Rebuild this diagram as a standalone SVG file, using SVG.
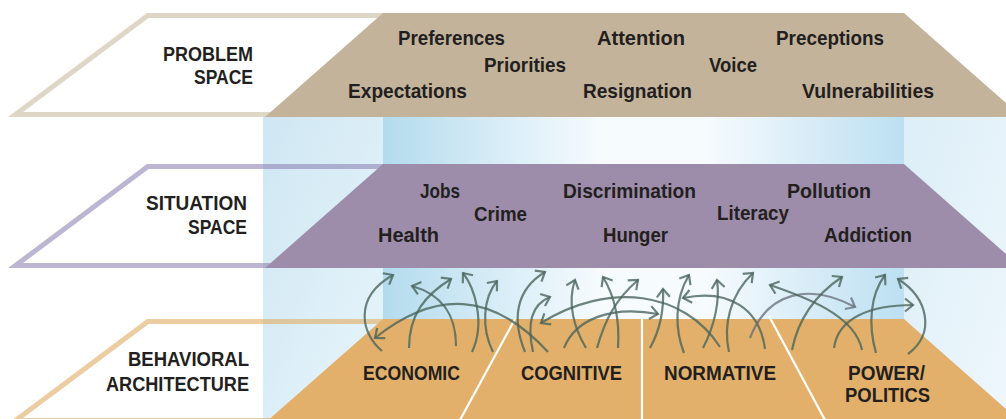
<svg xmlns="http://www.w3.org/2000/svg" width="1006" height="419" viewBox="0 0 1006 419">
<style>
.w{font-family:"Liberation Sans",Arial,sans-serif;font-weight:bold;font-size:21px;fill:#231F20}
.c{font-family:"Liberation Sans",Arial,sans-serif;font-weight:bold;font-size:20px;fill:#231F20}
.ar{fill:none;stroke:#4B655C;stroke-opacity:.8;stroke-width:2.2;marker-end:url(#ah)}
.ag{fill:none;stroke:#666B78;stroke-opacity:.75;stroke-width:2.2;marker-end:url(#ahg)}
.ol{fill:none;stroke-width:5;stroke-linejoin:miter}
.div{stroke:#fff;stroke-width:2.2;fill:none}
</style>
<defs>
<linearGradient id="back" x1="0" y1="0" x2="1" y2="0">
<stop offset="0" stop-color="#B3DBED"/>
<stop offset="0.25" stop-color="#DCEFF8"/>
<stop offset="0.42" stop-color="#F6FBFE"/>
<stop offset="0.62" stop-color="#F6FBFE"/>
<stop offset="0.85" stop-color="#D3EAF6"/>
<stop offset="1" stop-color="#BCE0F2"/>
</linearGradient>
<linearGradient id="lw" x1="0" y1="0" x2="1" y2="1">
<stop offset="0" stop-color="#CFE7F3"/>
<stop offset="1" stop-color="#E8F5FB"/>
</linearGradient>
<linearGradient id="rw" x1="0" y1="0" x2="1" y2="1">
<stop offset="0" stop-color="#DCEEF7"/>
<stop offset="1" stop-color="#EEF7FC"/>
</linearGradient>
<marker id="ah" viewBox="-12 -10 16 20" refX="0" refY="0" markerWidth="16" markerHeight="20" markerUnits="userSpaceOnUse" orient="auto">
<path d="M-8,-6.5 L0,0 L-8,6.5" fill="none" stroke="#4B655C" stroke-opacity="0.8" stroke-width="2.2"/>
</marker>
<marker id="ahg" viewBox="-12 -10 16 20" refX="0" refY="0" markerWidth="16" markerHeight="20" markerUnits="userSpaceOnUse" orient="auto">
<path d="M-8,-6.5 L0,0 L-8,6.5" fill="none" stroke="#666B78" stroke-opacity="0.75" stroke-width="2.2"/>
</marker>
</defs>
<rect width="1006" height="419" fill="#fff"/>
<g id="background">
<rect x="263" y="117" width="120" height="302" fill="url(#lw)"/>
<rect x="383" y="117" width="521" height="302" fill="url(#back)"/>
<rect x="904" y="117" width="102" height="302" fill="url(#rw)"/>
</g>
<g id="problem-space">
<polyline class="ol" points="392,15.5 147.8,15.5 15.5,114.5 300,114.5" stroke="#C9BD9E" stroke-opacity="0.6"/>
<polygon points="383,13 904,13 1022,117 265,117" fill="#C4B39B"/>
<text class="c" x="163" y="61" textLength="90" lengthAdjust="spacingAndGlyphs">PROBLEM</text>
<text class="c" x="194" y="83.5" textLength="59" lengthAdjust="spacingAndGlyphs">SPACE</text>
<text class="w" x="398" y="44.5" textLength="107" lengthAdjust="spacingAndGlyphs">Preferences</text>
<text class="w" x="484" y="72" textLength="82" lengthAdjust="spacingAndGlyphs">Priorities</text>
<text class="w" x="348" y="98" textLength="119" lengthAdjust="spacingAndGlyphs">Expectations</text>
<text class="w" x="597" y="44.5" textLength="88" lengthAdjust="spacingAndGlyphs">Attention</text>
<text class="w" x="583" y="98" textLength="109" lengthAdjust="spacingAndGlyphs">Resignation</text>
<text class="w" x="709" y="72" textLength="48" lengthAdjust="spacingAndGlyphs">Voice</text>
<text class="w" x="776" y="44.5" textLength="108" lengthAdjust="spacingAndGlyphs">Preceptions</text>
<text class="w" x="802" y="98" textLength="132" lengthAdjust="spacingAndGlyphs">Vulnerabilities</text>
</g>
<g id="situation-space">
<polyline class="ol" points="392,166.5 147.8,166.5 15.5,265.5 300,265.5" stroke="#8F86B5" stroke-opacity="0.6"/>
<polygon points="383,164 904,164 1022,268 265,268" fill="#9D8DAA"/>
<text class="c" x="146" y="210" textLength="101" lengthAdjust="spacingAndGlyphs">SITUATION</text>
<text class="c" x="188" y="234" textLength="59" lengthAdjust="spacingAndGlyphs">SPACE</text>
<text class="w" x="420" y="197.5" textLength="40" lengthAdjust="spacingAndGlyphs">Jobs</text>
<text class="w" x="474" y="221" textLength="53" lengthAdjust="spacingAndGlyphs">Crime</text>
<text class="w" x="378" y="242" textLength="61" lengthAdjust="spacingAndGlyphs">Health</text>
<text class="w" x="563" y="198" textLength="133" lengthAdjust="spacingAndGlyphs">Discrimination</text>
<text class="w" x="603" y="242" textLength="65" lengthAdjust="spacingAndGlyphs">Hunger</text>
<text class="w" x="717" y="220" textLength="72" lengthAdjust="spacingAndGlyphs">Literacy</text>
<text class="w" x="787" y="198" textLength="84" lengthAdjust="spacingAndGlyphs">Pollution</text>
<text class="w" x="824" y="242" textLength="88" lengthAdjust="spacingAndGlyphs">Addiction</text>
</g>
<g id="behavioral-architecture">
<polyline class="ol" points="392,321.5 147.8,321.5 15.5,420.5 300,420.5" stroke="#E0AC62" stroke-opacity="0.6"/>
<polygon points="383,319 904,319 1022,423 265,423" fill="#E2B06A"/>
<line class="div" x1="515" y1="319" x2="460" y2="420"/>
<line class="div" x1="642" y1="319" x2="642" y2="420"/>
<line class="div" x1="769" y1="316" x2="825" y2="420"/>
<text class="c" x="128" y="366" textLength="121" lengthAdjust="spacingAndGlyphs">BEHAVIORAL</text>
<text class="c" x="106" y="391" textLength="143" lengthAdjust="spacingAndGlyphs">ARCHITECTURE</text>
<g id="economic"><text class="c" x="363" y="380" textLength="97" lengthAdjust="spacingAndGlyphs">ECONOMIC</text></g>
<g id="cognitive"><text class="c" x="521" y="379.5" textLength="101" lengthAdjust="spacingAndGlyphs">COGNITIVE</text></g>
<g id="normative"><text class="c" x="664" y="379.5" textLength="112" lengthAdjust="spacingAndGlyphs">NORMATIVE</text></g>
<g id="power-politics"><text class="c" x="848" y="379.5" textLength="77" lengthAdjust="spacingAndGlyphs">POWER/</text>
<text class="c" x="845" y="402" textLength="85" lengthAdjust="spacingAndGlyphs">POLITICS</text></g>
</g>
<g id="connectors">
<path class="ar" d="M382,351 C362,335 352,298 393,275"/>
<path class="ar" d="M409,348 C409,315 425,295 451,279"/>
<path class="ar" d="M456,346 C456,312 440,294 412,286"/>
<path class="ar" d="M472,352 C486,322 474,287 463,273"/>
<path class="ar" d="M493,352 C481,328 483,298 497,281"/>
<path class="ar" d="M548,352 C492,291 435,290 375,338"/>
<path class="ar" d="M525,352 C512,320 515,290 545,272"/>
<path class="ar" d="M533,352 C527,325 530,305 550,297"/>
<path class="ar" d="M720,347 C684,291 609,281 541,323"/>
<path class="ar" d="M564,348 C575,320 610,305 658,314"/>
<path class="ar" d="M586,348 C574,328 567,303 575,280"/>
<path class="ar" d="M597,348 C605,320 615,300 638,280"/>
<path class="ar" d="M618,348 C620,318 614,295 603,277"/>
<path class="ar" d="M650,348 C660,330 664,310 663,289"/>
<path class="ar" d="M684,353 C675,330 674,300 689,275"/>
<path class="ar" d="M765,349 C760,310 730,288 683,298"/>
<path class="ar" d="M703,348 C715,325 720,300 717,280"/>
<path class="ar" d="M729,352 C723,325 730,295 753,273"/>
<path class="ag" d="M750,338 C768,291 810,283 855,307"/>
<path class="ar" d="M792,350 C798,320 815,295 842,277"/>
<path class="ar" d="M862,350 C855,315 805,297 770,285"/>
<path class="ar" d="M834,348 C838,318 870,305 913,305"/>
<path class="ar" d="M876,353 C868,325 870,295 885,275"/>
<path class="ar" d="M908,354 C936,333 928,298 898,279"/>
</g>
</svg>
